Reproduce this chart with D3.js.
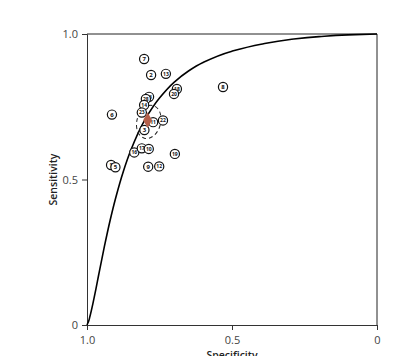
<!DOCTYPE html>
<html><head><meta charset="utf-8">
<script src="https://cdn.jsdelivr.net/npm/d3@7"></script>
<style>body{margin:0;background:#fff;} svg{display:block;}</style>
</head><body>
<svg id="chart" width="395" height="356"></svg>
<script>
// Study labels, specificity and sensitivity
const studyLabels = ["7","2","13","8","18","20","26","28","14","23","6","11","22","3","16","17","10","19","1","5","9","12"];
const specificity = [0.803,0.779,0.728,0.531,0.690,0.700,0.786,0.797,0.803,0.811,0.914,0.772,0.738,0.802,0.837,0.811,0.787,0.697,0.917,0.902,0.789,0.751];
const sensitivity = [0.914,0.859,0.863,0.818,0.811,0.794,0.784,0.777,0.756,0.730,0.723,0.697,0.703,0.670,0.593,0.607,0.605,0.588,0.550,0.542,0.544,0.545];
// Summary point and its confidence region (centre spec, centre sens, half-width spec, half-height sens)
const summaryPoint = [0.791, 0.704];
const confidenceRegion = [0.787, 0.698, 0.041, 0.058];
// SROC curve points: specificity and sensitivity
const curveSpec = [1.0,0.995,0.99,0.98,0.97,0.96,0.94,0.92,0.90,0.875,0.85,0.80,0.75,0.70,0.65,0.60,0.50,0.40,0.30,0.20,0.10,0.0];
const curveSens = [0.0,0.011,0.029,0.072,0.120,0.171,0.270,0.361,0.441,0.527,0.598,0.706,0.780,0.834,0.873,0.902,0.941,0.965,0.981,0.991,0.997,1.0];
// Tick labels
const xTicks = [1.0, 0.5, 0];
const xTickLabels = ["1.0","0.5","0"];
const yTicks = [0, 0.5, 1.0];
const yTickLabels = ["0","0.5","1.0"];

(function () {
const svg = d3.select("#chart");
const mLeft = 87, mRight = 377, mTop = 34, mBottom = 325;
const x = d3.scaleLinear().domain([1, 0]).range([mLeft, mRight]);
const y = d3.scaleLinear().domain([0, 1]).range([mBottom, mTop]);
const font = "'Open Sans', 'DejaVu Sans', sans-serif";

// frame top & right
svg.append("line").attr("x1", mLeft).attr("x2", mRight).attr("y1", mTop).attr("y2", mTop).attr("stroke", "#222").attr("stroke-width", 1);
svg.append("line").attr("x1", mRight).attr("x2", mRight).attr("y1", mTop).attr("y2", mBottom).attr("stroke", "#222").attr("stroke-width", 1);

const xAxis = d3.axisBottom(x).tickValues(xTicks).tickFormat((d, i) => xTickLabels[i]).tickSize(5).tickPadding(6);
const gx = svg.append("g").attr("transform", `translate(0,${mBottom})`).call(xAxis);
const yAxis = d3.axisLeft(y).tickValues(yTicks).tickFormat((d, i) => yTickLabels[i]).tickSize(5).tickPadding(4);
const gy = svg.append("g").attr("transform", `translate(${mLeft},0)`).call(yAxis);
[gx, gy].forEach(g => {
  g.select(".domain").attr("stroke", "#333");
  g.selectAll(".tick line").attr("stroke", "#333");
  g.selectAll(".tick text").attr("font-family", font).attr("font-size", 11).attr("fill", "#444");
});

svg.append("text").attr("transform", `translate(57,${(mTop + mBottom) / 2}) rotate(-90)`)
  .attr("text-anchor", "middle").attr("font-family", font).attr("font-size", 10.5).attr("font-weight", 600).attr("fill", "#222").text("Sensitivity");
svg.append("text").attr("x", (mLeft + mRight) / 2).attr("y", 359)
  .attr("text-anchor", "middle").attr("font-family", font).attr("font-size", 10.5).attr("font-weight", 600).attr("fill", "#222").text("Specificity");

// curve
const curveData = curveSpec.map((s, i) => [s, curveSens[i]]);
svg.append("path").datum(curveData)
  .attr("d", d3.line().x(d => x(d[0])).y(d => y(d[1])).curve(d3.curveMonotoneY))
  .attr("fill", "none").attr("stroke", "#000").attr("stroke-width", 1.6);

// confidence region
const [cs, cse, hw, hh] = confidenceRegion;
svg.append("ellipse")
  .attr("cx", x(cs)).attr("cy", y(cse))
  .attr("rx", Math.abs(x(cs - hw) - x(cs))).attr("ry", Math.abs(y(cse + hh) - y(cse)))
  .attr("transform", `rotate(15,${x(cs)},${y(cse)})`)
  .attr("fill", "none").attr("stroke", "#222").attr("stroke-width", 1).attr("stroke-dasharray", "4,3");

// studies
const studies = studyLabels.map((l, i) => ({l, s: specificity[i], se: sensitivity[i]}));
const g = svg.append("g").selectAll("g").data(studies).join("g")
  .attr("transform", d => `translate(${x(d.s)},${y(d.se)})`);
g.append("circle").attr("r", 4.6).attr("fill", "#fff").attr("stroke", "#111").attr("stroke-width", 1.2);
g.append("text").attr("text-anchor", "middle").attr("dy", "0.35em").attr("font-family", font)
  .attr("font-size", d => d.l.length > 1 ? 5 : 6).attr("font-weight", 700).attr("fill", "#111").text(d => d.l);

// summary point
svg.append("path").attr("d", d3.symbol(d3.symbolDiamond, 70)())
  .attr("transform", `translate(${x(summaryPoint[0])},${y(summaryPoint[1])})`)
  .attr("fill", "#b4604b");
})();
</script>
</body></html>
